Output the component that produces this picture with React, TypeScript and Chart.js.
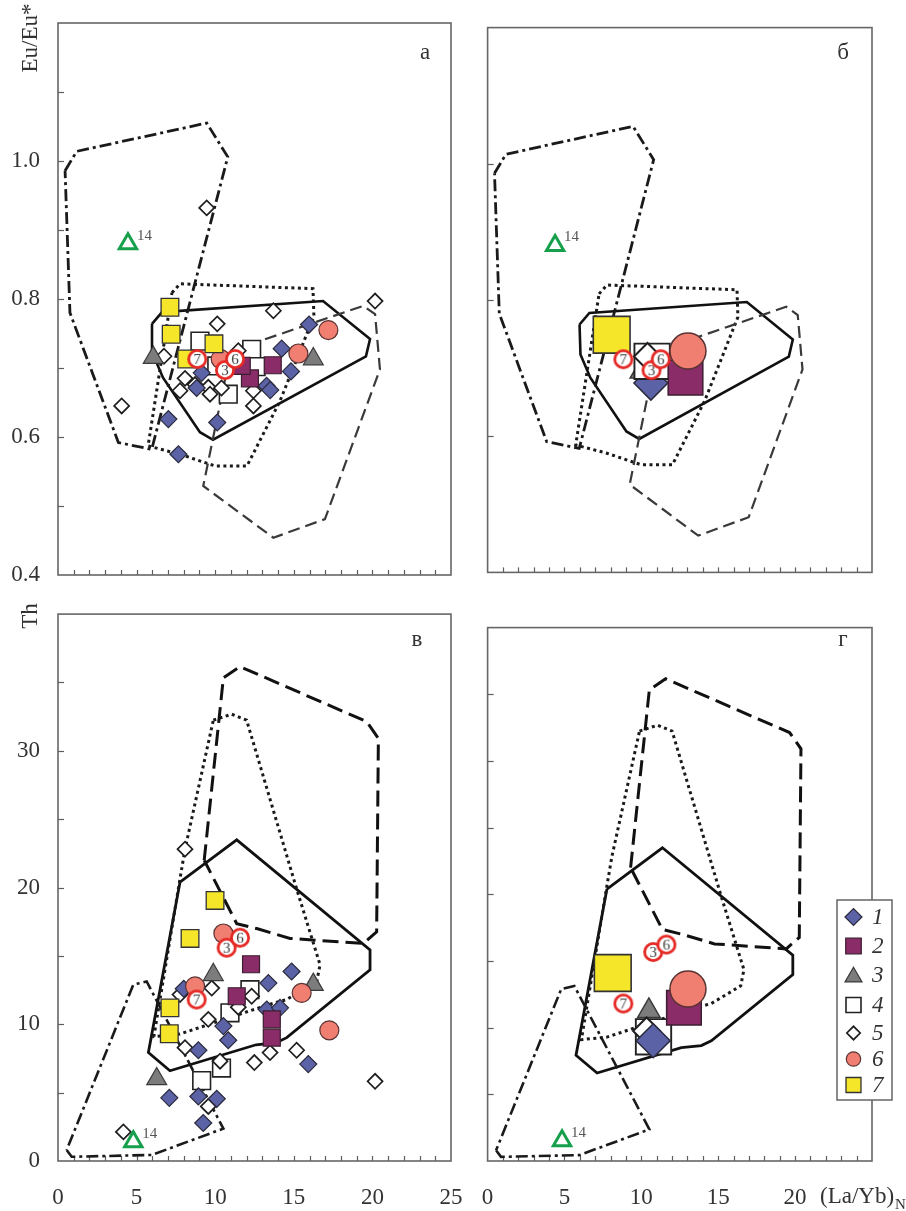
import { useEffect, useRef } from 'react';
import { Chart, registerables } from 'chart.js';

Chart.register(...registerables);

type Pt = [number, number];
type Shape = 'rectRot' | 'rect' | 'triangle' | 'circle';
type GroupKey = 'g1' | 'g2' | 'g3' | 'g4' | 'g5' | 'g6' | 'g7';

const SERIF = '"Liberation Serif", "Times New Roman", Times, serif';

// ---------------- axes / ticks ----------------
const X_MIN = 0;
const X_MAX = 25;
const EU_MIN = 0.4;
const EU_MAX = 1.2;
const TH_MIN = 0;
const TH_MAX = 40;
const xMinorTicks = [1, 2, 3, 4, 5, 6, 7, 8, 9, 10, 11, 12, 13, 14, 15, 16, 17, 18, 19, 20, 21, 22, 23, 24];
const euTickMarksLeft = [0.5, 0.6, 0.7, 0.8, 0.9, 1.0, 1.1];
const euTickMarksRight = [0.6, 0.8, 1.0];
const thTickMarks = [5, 10, 15, 20, 25, 30, 35];
const euTickLabels = ['0.4', '0.6', '0.8', '1.0'];
const thTickLabels = ['0', '10', '20', '30'];
const xTickLabelsLeft = ['0', '5', '10', '15', '20', '25'];
const xTickLabelsRight = ['0', '5', '10', '15', '20'];
const legendLabels = ['1', '2', '3', '4', '5', '6', '7'];
const circledLabels = ['7', '6', '3'];

// ---------------- field outlines ----------------
const euDashDot: Pt[] = [[0.45, 0.986], [1.19, 1.014], [9.46, 1.055], [10.8, 1.006], [5.96, 0.582], [3.84, 0.592], [0.76, 0.78], [0.45, 0.986]];
const euDotted: Pt[] = [[7.25, 0.809], [7.76, 0.822], [16.22, 0.815], [16.28, 0.775], [14.12, 0.652], [12.02, 0.558], [9.99, 0.558], [7.76, 0.575], [5.73, 0.587], [7.25, 0.809]];
const euSolid: Pt[] = [[5.98, 0.764], [6.62, 0.781], [16.86, 0.797], [19.85, 0.742], [19.59, 0.717], [9.86, 0.596], [9.03, 0.607], [6.68, 0.686], [6.04, 0.72], [5.98, 0.764]];
const euDashed: Pt[] = [[11.0, 0.725], [19.42, 0.79], [20.17, 0.778], [20.48, 0.698], [16.98, 0.481], [13.7, 0.454], [9.24, 0.529], [11.0, 0.725]];

const thDashDot: Pt[] = [[0.55, 0.8], [0.87, 0.31], [5.96, 0.44], [10.52, 2.37], [5.64, 13.13], [4.79, 12.9], [0.55, 0.8]];
const thDotted: Pt[] = [[9.88, 32.24], [11.05, 32.68], [12.0, 32.24], [15.18, 19.9], [16.67, 14.35], [16.46, 13.13], [14.55, 11.81], [13.49, 11.47], [7.76, 9.29], [6.1, 9.1], [7.76, 20.64], [8.08, 22.81], [9.88, 32.24]];
const thSolid: Pt[] = [[7.76, 20.39], [11.37, 23.49], [19.85, 15.44], [19.85, 13.98], [14.55, 9.02], [13.9, 8.66], [12.6, 8.5], [7.12, 6.6], [5.75, 7.93], [7.76, 20.39]];
const thDashed: Pt[] = [[9.3, 22.0], [10.52, 35.34], [11.58, 36.16], [19.64, 32.13], [20.38, 30.91], [20.27, 16.76], [19.42, 15.91], [14.76, 16.28], [12.64, 17.0], [11.37, 17.36], [9.3, 22.0]];

// ---------------- panel а : Eu/Eu* vs (La/Yb)N, samples ----------------
const a_g1: Pt[] = [[15.97, 0.763], [14.23, 0.728], [14.82, 0.695], [13.27, 0.674], [13.5, 0.668], [7.02, 0.626], [10.13, 0.621], [7.66, 0.575], [8.82, 0.671], [9.14, 0.693]];
const a_g2: Pt[] = [[13.66, 0.704], [12.21, 0.685], [11.69, 0.703]];
const a_g3: Pt[] = [[6.06, 0.715], [16.24, 0.713]];
const a_g4: Pt[] = [[9.03, 0.739], [12.32, 0.727], [12.6, 0.702], [10.83, 0.662], [10.1, 0.703]];
const a_g5: Pt[] = [[13.7, 0.783], [20.17, 0.797], [10.13, 0.764], [6.74, 0.717], [4.05, 0.645], [8.08, 0.685], [7.76, 0.667], [8.72, 0.676], [9.56, 0.672], [10.4, 0.671], [9.67, 0.662], [12.43, 0.645], [12.43, 0.667], [9.46, 0.932], [11.47, 0.725]];
const a_g6: Pt[] = [[17.2, 0.755], [15.29, 0.721], [10.35, 0.713]];
const a_g7: Pt[] = [[7.12, 0.788], [7.2, 0.749], [9.92, 0.735], [8.19, 0.713]];
const a_circled: Pt[] = [[8.86, 0.713], [11.26, 0.713], [10.62, 0.697]];
const a_ref14: Pt[] = [[4.45, 0.88]];

// ---------------- panel б : averages ----------------
const b_g1: Pt[] = [[10.62, 0.678]];
const b_g2: Pt[] = [[12.87, 0.686]];
const b_g3: Pt[] = [[10.0, 0.695]];
const b_g4: Pt[] = [[10.7, 0.71]];
const b_g5: Pt[] = [[10.4, 0.717]];
const b_g6: Pt[] = [[13.03, 0.725]];
const b_g7: Pt[] = [[8.07, 0.749]];
const b_circled: Pt[] = [[8.83, 0.713], [11.26, 0.713], [10.66, 0.697]];
const b_ref14: Pt[] = [[4.39, 0.88]];

// ---------------- panel в : Th vs (La/Yb)N, samples ----------------
const v_g1: Pt[] = [[14.86, 13.86], [13.38, 13.01], [13.28, 11.08], [14.12, 11.2], [10.52, 9.87], [10.83, 8.83], [8.93, 8.1], [15.92, 7.09], [7.08, 4.62], [8.93, 4.72], [10.1, 4.55], [9.24, 2.78], [8.0, 12.6]];
const v_g2: Pt[] = [[12.28, 14.39], [11.37, 12.05], [13.6, 10.36], [13.6, 9.02]];
const v_g3: Pt[] = [[9.88, 13.62], [16.24, 12.9], [6.28, 6.0]];
const v_g4: Pt[] = [[12.21, 12.53], [10.94, 10.84], [10.4, 6.8], [9.14, 5.88]];
const v_g5: Pt[] = [[9.78, 12.65], [12.32, 12.05], [7.76, 12.17], [9.56, 10.36], [8.08, 8.29], [10.31, 7.3], [12.49, 7.2], [13.49, 7.93], [15.18, 8.1], [20.17, 5.83], [9.56, 3.99], [4.16, 2.13], [8.08, 22.81], [11.47, 11.25]];
const v_g6: Pt[] = [[10.52, 16.64], [15.5, 12.29], [8.72, 12.77], [17.26, 9.56]];
const v_g7: Pt[] = [[9.99, 19.06], [8.4, 16.28], [7.12, 11.2], [7.08, 9.31]];
const v_circled: Pt[] = [[8.82, 11.81], [11.58, 16.33], [10.73, 15.6]];
const v_ref14: Pt[] = [[4.79, 1.4]];

// ---------------- panel г : averages ----------------
const g_g1: Pt[] = [[10.77, 9.02]];
const g_g2: Pt[] = [[12.77, 11.49]];
const g_g3: Pt[] = [[10.49, 11.25]];
const g_g4: Pt[] = [[10.79, 9.31]];
const g_g5: Pt[] = [[10.34, 9.75]];
const g_g6: Pt[] = [[13.03, 12.9]];
const g_g7: Pt[] = [[8.14, 14.1]];
const g_circled: Pt[] = [[8.83, 11.81], [11.63, 16.23], [10.77, 15.67]];
const g_ref14: Pt[] = [[4.84, 1.52]];

// ---------------- styles ----------------
const markerStyles: Record<GroupKey, { shape: Shape; fill: string; stroke: string; lw: number }> = {
  g1: { shape: 'rectRot', fill: '#5b63a6', stroke: '#2a2a3c', lw: 1.2 },
  g2: { shape: 'rect', fill: '#8a2c68', stroke: '#3b1e30', lw: 1.2 },
  g3: { shape: 'triangle', fill: '#7c7c7c', stroke: '#3a3a3a', lw: 1.2 },
  g4: { shape: 'rect', fill: '#ffffff', stroke: '#222222', lw: 1.6 },
  g5: { shape: 'rectRot', fill: '#ffffff', stroke: '#1e1e1e', lw: 1.7 },
  g6: { shape: 'circle', fill: '#f07f72', stroke: '#5a3333', lw: 1.2 },
  g7: { shape: 'rect', fill: '#f6e62a', stroke: '#333333', lw: 1.3 },
};
const smallR: Record<GroupKey, number> = { g1: 8.5, g2: 12, g3: 11.5, g4: 12.5, g5: 7.5, g6: 9.5, g7: 12.5 };
const bigR: Record<GroupKey, number> = { g1: 17, g2: 24.5, g3: 13, g4: 25, g5: 13.5, g6: 18, g7: 26 };
const legendR: Record<GroupKey, number> = { g1: 8.5, g2: 11, g3: 9.8, g4: 10.6, g5: 6.7, g6: 7.2, g7: 10.6 };
const legendRowsY = [317, 346, 375, 405, 433, 459, 485];

const orderSamples: Record<string, number> = { ref: 0, circ: 1, g7: 2, g6: 3, g2: 4, g3: 5, g1: 6, g5: 7, g4: 8 };
const orderB: Record<string, number> = { ref: 0, circ: 1, g7: 2, g6: 3, g2: 4, g5: 5, g4: 6, g1: 7, g3: 8 };
const orderG: Record<string, number> = { ref: 0, circ: 1, g7: 2, g6: 3, g2: 4, g1: 5, g5: 6, g4: 7, g3: 8 };

interface PolyDef { pts: Pt[]; color: string; width: number; dash: number[] }
interface PanelDef {
  id: string;
  letter: string;
  letterPos: [number, number];
  box: { left: number; top: number; w: number; h: number };
  pad: { left: number; top: number; right: number; bottom: number };
  kind: 'eu' | 'th';
  yLabels: string[] | null;
  xLabels: string[] | null;
  yMarks: number[];
  radii: Record<GroupKey, number>;
  order: Record<string, number>;
  groups: Record<GroupKey, Pt[]>;
  circled: Pt[];
  ref14: Pt[];
  polys: PolyDef[];
  title?: { text: string; x: number; y: number };
  xTitle?: boolean;
  legend?: boolean;
}

const euPolys: PolyDef[] = [
  { pts: euDashed, color: '#3a3a3a', width: 2.2, dash: [12, 6] },
  { pts: euDashDot, color: '#1a1a1a', width: 2.8, dash: [12, 4, 3, 4] },
  { pts: euDotted, color: '#1a1a1a', width: 3, dash: [3, 3.5] },
  { pts: euSolid, color: '#111111', width: 2.6, dash: [] },
];
const thPolys: PolyDef[] = [
  { pts: thDashed, color: '#111111', width: 3, dash: [16, 7] },
  { pts: thDashDot, color: '#1a1a1a', width: 2.6, dash: [12, 4, 3, 4] },
  { pts: thDotted, color: '#1a1a1a', width: 3, dash: [3, 3.5] },
  { pts: thSolid, color: '#111111', width: 2.8, dash: [] },
];

const panels: PanelDef[] = [
  {
    id: 'a', letter: 'а', letterPos: [425, 53],
    box: { left: 0, top: 0, w: 475, h: 600 }, pad: { left: 0, top: 23, right: 24, bottom: 25 },
    kind: 'eu', yLabels: euTickLabels, xLabels: null, yMarks: euTickMarksLeft,
    radii: smallR, order: orderSamples,
    groups: { g1: a_g1, g2: a_g2, g3: a_g3, g4: a_g4, g5: a_g5, g6: a_g6, g7: a_g7 },
    circled: a_circled, ref14: a_ref14, polys: euPolys,
    title: { text: 'Eu/Eu*', x: 31, y: 38 },
  },
  {
    id: 'b', letter: 'б', letterPos: [383, 53],
    box: { left: 460, top: 0, w: 446, h: 600 }, pad: { left: 25, top: 23, right: 34, bottom: 25 },
    kind: 'eu', yLabels: null, xLabels: null, yMarks: euTickMarksRight,
    radii: bigR, order: orderB,
    groups: { g1: b_g1, g2: b_g2, g3: b_g3, g4: b_g4, g5: b_g5, g6: b_g6, g7: b_g7 },
    circled: b_circled, ref14: b_ref14, polys: euPolys,
  },
  {
    id: 'v', letter: 'в', letterPos: [417, 40],
    box: { left: 0, top: 600, w: 475, h: 611 }, pad: { left: 0, top: 10, right: 24, bottom: 0 },
    kind: 'th', yLabels: thTickLabels, xLabels: xTickLabelsLeft, yMarks: thTickMarks,
    radii: smallR, order: orderSamples,
    groups: { g1: v_g1, g2: v_g2, g3: v_g3, g4: v_g4, g5: v_g5, g6: v_g6, g7: v_g7 },
    circled: v_circled, ref14: v_ref14, polys: thPolys,
    title: { text: 'Th', x: 31, y: 16 },
  },
  {
    id: 'g', letter: 'г', letterPos: [383, 40],
    box: { left: 460, top: 600, w: 446, h: 611 }, pad: { left: 25, top: 10, right: 34, bottom: 0 },
    kind: 'th', yLabels: null, xLabels: xTickLabelsRight, yMarks: thTickMarks,
    radii: bigR, order: orderG,
    groups: { g1: g_g1, g2: g_g2, g3: g_g3, g4: g_g4, g5: g_g5, g6: g_g6, g7: g_g7 },
    circled: g_circled, ref14: g_ref14, polys: thPolys,
    xTitle: true, legend: true,
  },
];

function circledImage(label: string): HTMLCanvasElement {
  const r = 8.6;
  const size = 26;
  const c = document.createElement('canvas');
  c.width = size;
  c.height = size;
  const ctx = c.getContext('2d')!;
  ctx.beginPath();
  ctx.arc(size / 2, size / 2, r, 0, Math.PI * 2);
  ctx.fillStyle = '#ffffff';
  ctx.fill();
  ctx.lineWidth = 2.8;
  ctx.strokeStyle = '#e52a26';
  ctx.stroke();
  ctx.fillStyle = '#3c3c3c';
  ctx.font = `15px ${SERIF}`;
  ctx.textAlign = 'center';
  ctx.textBaseline = 'middle';
  ctx.fillText(label, size / 2, size / 2 + 1);
  return c;
}

function drawShape(ctx: CanvasRenderingContext2D, shape: Shape, x: number, y: number, r: number, fill: string, stroke: string, lw: number) {
  ctx.beginPath();
  if (shape === 'rectRot') {
    ctx.moveTo(x - r, y);
    ctx.lineTo(x, y - r);
    ctx.lineTo(x + r, y);
    ctx.lineTo(x, y + r);
    ctx.closePath();
  } else if (shape === 'rect') {
    const s = r * Math.SQRT1_2;
    ctx.rect(x - s, y - s, 2 * s, 2 * s);
  } else if (shape === 'triangle') {
    for (let k = 0; k < 3; k++) {
      const ang = (k * 2 * Math.PI) / 3;
      const px = x + Math.sin(ang) * r;
      const py = y - Math.cos(ang) * r;
      if (k === 0) ctx.moveTo(px, py);
      else ctx.lineTo(px, py);
    }
    ctx.closePath();
  } else {
    ctx.arc(x, y, r, 0, Math.PI * 2);
  }
  ctx.fillStyle = fill;
  ctx.fill();
  ctx.lineWidth = lw;
  ctx.strokeStyle = stroke;
  ctx.stroke();
}

const toXY = (pts: Pt[]) => pts.map(([x, y]) => ({ x, y }));

function makeChart(canvas: HTMLCanvasElement, p: PanelDef): Chart {
  const datasets: any[] = [];
  p.polys.forEach((pl) =>
    datasets.push({
      data: toXY(pl.pts),
      showLine: true,
      pointRadius: 0,
      pointHoverRadius: 0,
      pointHitRadius: 0,
      borderColor: pl.color,
      borderWidth: pl.width,
      borderDash: pl.dash,
      borderCapStyle: 'butt',
      borderJoinStyle: 'miter',
      fill: false,
      tension: 0,
      order: 100,
    })
  );
  (Object.keys(p.groups) as GroupKey[]).forEach((k) => {
    const st = markerStyles[k];
    datasets.push({
      data: toXY(p.groups[k]),
      showLine: false,
      pointStyle: st.shape,
      pointRadius: p.radii[k],
      pointHoverRadius: p.radii[k],
      pointBackgroundColor: st.fill,
      pointBorderColor: st.stroke,
      pointBorderWidth: p.radii === bigR ? st.lw + 0.3 : st.lw,
      order: p.order[k],
    });
  });
  p.circled.forEach((pt, i) => {
    datasets.push({
      data: toXY([pt]),
      showLine: false,
      pointStyle: circledImage(circledLabels[i]),
      pointRadius: 10,
      order: p.order.circ,
    });
  });
  const refIndex = datasets.length;
  datasets.push({
    data: toXY(p.ref14),
    showLine: false,
    pointStyle: 'triangle',
    pointRadius: 10,
    pointBackgroundColor: 'rgba(255,255,255,0.9)',
    pointBorderColor: '#17a04c',
    pointBorderWidth: 3,
    order: p.order.ref,
  });

  const decor = {
    id: 'decor_' + p.id,
    beforeDatasetsDraw(chart: any) {
      const { ctx, chartArea: ca, scales } = chart;
      ctx.save();
      ctx.strokeStyle = '#5e5e5e';
      ctx.lineWidth = 1.2;
      xMinorTicks.forEach((v) => {
        const px = Math.round(scales.x.getPixelForValue(v)) + 0.5;
        ctx.beginPath();
        ctx.moveTo(px, ca.bottom);
        ctx.lineTo(px, ca.bottom - 5);
        ctx.stroke();
      });
      p.yMarks.forEach((v) => {
        const py = Math.round(scales.y.getPixelForValue(v)) + 0.5;
        ctx.beginPath();
        ctx.moveTo(ca.left, py);
        ctx.lineTo(ca.left + 6, py);
        ctx.stroke();
      });
      ctx.strokeStyle = '#666666';
      ctx.lineWidth = 1.6;
      ctx.strokeRect(ca.left, ca.top, ca.right - ca.left, ca.bottom - ca.top);
      ctx.restore();
    },
    afterDatasetsDraw(chart: any) {
      const { ctx } = chart;
      ctx.save();
      const el = chart.getDatasetMeta(refIndex).data[0];
      if (el) {
        ctx.fillStyle = '#555555';
        ctx.font = `15px ${SERIF}`;
        ctx.textAlign = 'left';
        ctx.textBaseline = 'middle';
        ctx.fillText('14', el.x + 9, el.y - 8);
      }
      ctx.fillStyle = '#333333';
      ctx.font = `23px ${SERIF}`;
      ctx.textAlign = 'center';
      ctx.textBaseline = 'middle';
      ctx.fillText(p.letter, p.letterPos[0], p.letterPos[1]);
      if (p.title) {
        ctx.save();
        ctx.translate(p.title.x, p.title.y);
        ctx.rotate(-Math.PI / 2);
        ctx.font = `23px ${SERIF}`;
        ctx.fillText(p.title.text, 0, 0);
        ctx.restore();
      }
      if (p.xTitle) {
        ctx.textAlign = 'left';
        ctx.font = `23px ${SERIF}`;
        const t = '(La/Yb)';
        const x0 = 360;
        const y0 = 597;
        ctx.fillText(t, x0, y0);
        const w = ctx.measureText(t).width;
        ctx.font = `15px ${SERIF}`;
        ctx.fillText('N', x0 + w + 1, y0 + 8);
      }
      ctx.restore();
    },
    afterDraw(chart: any) {
      if (!p.legend) return;
      const { ctx } = chart;
      ctx.save();
      ctx.fillStyle = '#ffffff';
      ctx.fillRect(377, 300, 55, 200);
      ctx.strokeStyle = '#666666';
      ctx.lineWidth = 1.5;
      ctx.strokeRect(377, 300, 55, 200);
      (['g1', 'g2', 'g3', 'g4', 'g5', 'g6', 'g7'] as GroupKey[]).forEach((k, i) => {
        const st = markerStyles[k];
        const y = legendRowsY[i];
        drawShape(ctx, st.shape, 393.5, y + (st.shape === 'triangle' ? 2 : 0), legendR[k], st.fill, st.stroke, st.lw);
        ctx.fillStyle = '#333333';
        ctx.font = `italic 23px ${SERIF}`;
        ctx.textAlign = 'left';
        ctx.textBaseline = 'middle';
        ctx.fillText(legendLabels[i], 412, y + 1);
      });
      ctx.restore();
    },
  };

  const font = { family: SERIF, size: 23 };
  const showX = p.xLabels !== null;
  const showY = p.yLabels !== null;
  return new Chart(canvas, {
    type: 'scatter',
    data: { datasets },
    options: {
      animation: false,
      responsive: false,
      maintainAspectRatio: false,
      events: [],
      layout: { padding: p.pad },
      plugins: { legend: { display: false }, tooltip: { enabled: false } },
      scales: {
        x: {
          type: 'linear',
          min: X_MIN,
          max: X_MAX,
          display: showX,
          grid: { display: false, drawTicks: false },
          border: { display: false },
          ticks: {
            stepSize: 5,
            autoSkip: false,
            maxRotation: 0,
            minRotation: 0,
            padding: 23,
            font,
            color: '#333333',
            callback: (v: any) => {
              const s = String(Math.round(Number(v)));
              return p.xLabels && p.xLabels.includes(s) ? s : '';
            },
          },
          afterFit: (s: any) => {
            s.height = showX ? 50 : 0;
            s.paddingLeft = 0;
            s.paddingRight = 0;
          },
        },
        y: {
          type: 'linear',
          min: p.kind === 'eu' ? EU_MIN : TH_MIN,
          max: p.kind === 'eu' ? EU_MAX : TH_MAX,
          display: showY,
          grid: { display: false, drawTicks: false },
          border: { display: false },
          ticks: {
            stepSize: p.kind === 'eu' ? 0.2 : 10,
            autoSkip: false,
            padding: 18,
            font,
            color: '#333333',
            callback: (v: any) => {
              const s = p.kind === 'eu' ? Number(v).toFixed(1) : String(Math.round(Number(v)));
              return p.yLabels && p.yLabels.includes(s) ? s : '';
            },
          },
          afterFit: (s: any) => {
            s.width = showY ? 58 : 0;
            s.paddingTop = 0;
            s.paddingBottom = 0;
          },
        },
      },
    } as any,
    plugins: [decor as any],
  });
}

export default function App() {
  const canvasRefs = useRef<(HTMLCanvasElement | null)[]>([]);
  useEffect(() => {
    const charts = panels.map((p, i) => makeChart(canvasRefs.current[i]!, p));
    return () => charts.forEach((c) => c.destroy());
  }, []);
  return (
    <div style={{ position: 'absolute', left: 0, top: 0, width: 906, height: 1211, background: '#ffffff', overflow: 'hidden' }}>
      {panels.map((p, i) => (
        <canvas
          key={p.id}
          ref={(el) => {
            canvasRefs.current[i] = el;
          }}
          width={p.box.w}
          height={p.box.h}
          style={{ position: 'absolute', left: p.box.left, top: p.box.top, width: p.box.w, height: p.box.h }}
        />
      ))}
    </div>
  );
}
